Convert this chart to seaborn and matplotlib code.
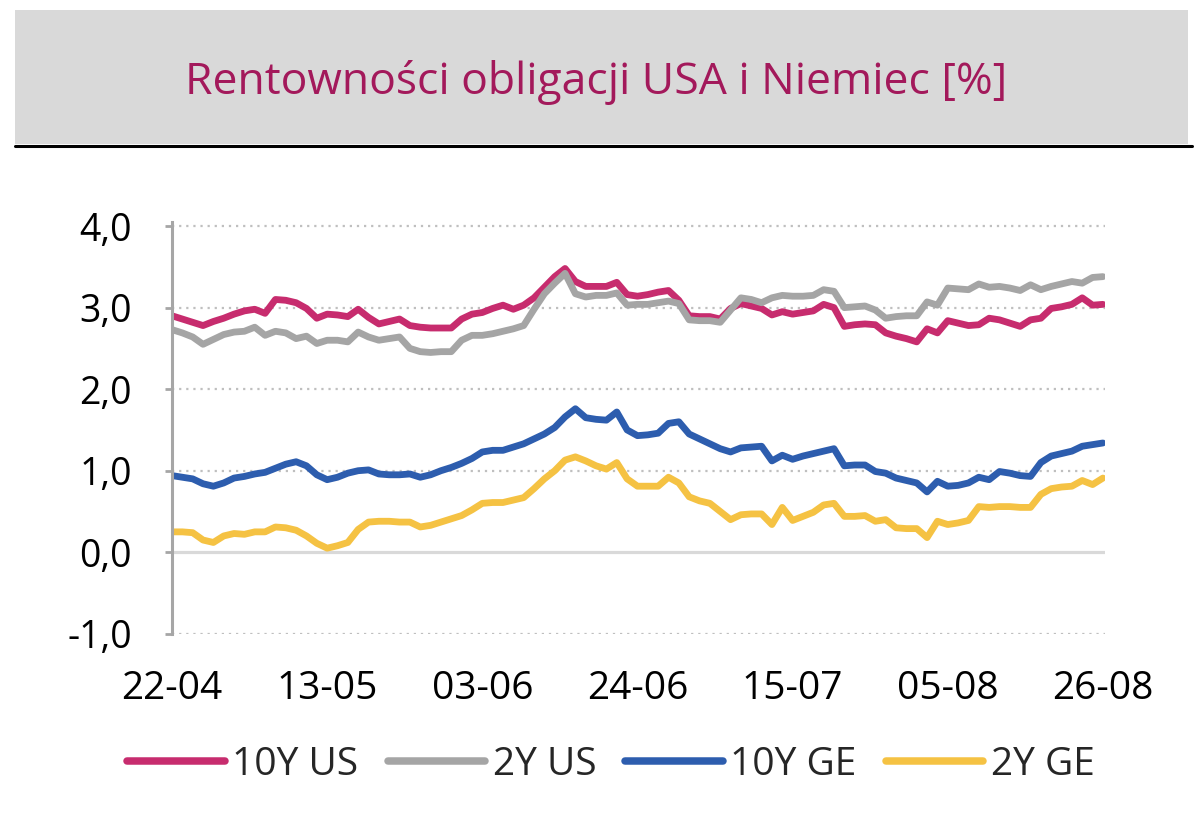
import numpy as np
import pandas as pd
import matplotlib
matplotlib.use("Agg")
import matplotlib.pyplot as plt
import seaborn as sns
from matplotlib.lines import Line2D
from matplotlib.patches import Rectangle
from matplotlib.ticker import FuncFormatter, FixedLocator

# ---------------- data ----------------
dates = pd.bdate_range("2022-04-22", "2022-08-26")

us10 = [2.90, 2.86, 2.82, 2.78, 2.83, 2.87, 2.92, 2.96, 2.98, 2.93, 3.10, 3.09, 3.06, 2.99, 2.87, 2.92,
        2.91, 2.89, 2.98, 2.88, 2.80, 2.83, 2.86, 2.78, 2.76, 2.75, 2.75, 2.75, 2.86, 2.92, 2.94,
        2.99, 3.03, 2.98, 3.03, 3.12, 3.25, 3.38, 3.48, 3.32, 3.26, 3.26, 3.26, 3.31, 3.16, 3.14,
        3.16, 3.19, 3.21, 3.09, 2.90, 2.89, 2.89, 2.86, 2.99, 3.05, 3.02, 2.99, 2.91, 2.95, 2.92,
        2.94, 2.96, 3.04, 3.00, 2.77, 2.79, 2.80, 2.79, 2.69, 2.65, 2.62, 2.58, 2.74, 2.69, 2.84,
        2.81, 2.78, 2.79, 2.87, 2.85, 2.81, 2.77, 2.85, 2.87, 2.99, 3.01, 3.04, 3.12, 3.03, 3.04]

us2 = [2.73, 2.69, 2.64, 2.55, 2.61, 2.67, 2.70, 2.71, 2.76, 2.66, 2.71, 2.69, 2.62, 2.65, 2.56, 2.60,
       2.60, 2.58, 2.70, 2.64, 2.60, 2.62, 2.64, 2.50, 2.46, 2.45, 2.46, 2.46, 2.60, 2.66, 2.66,
       2.68, 2.71, 2.74, 2.78, 2.98, 3.17, 3.30, 3.42, 3.17, 3.13, 3.15, 3.15, 3.18, 3.03, 3.04,
       3.04, 3.06, 3.08, 3.05, 2.85, 2.84, 2.84, 2.82, 2.97, 3.12, 3.10, 3.06, 3.12, 3.15, 3.14,
       3.14, 3.15, 3.22, 3.20, 3.00, 3.01, 3.02, 2.97, 2.87, 2.89, 2.90, 2.90, 3.07, 3.03, 3.24,
       3.23, 3.22, 3.29, 3.25, 3.26, 3.24, 3.21, 3.28, 3.22, 3.26, 3.29, 3.32, 3.30, 3.37, 3.38]

ge10 = [0.94, 0.92, 0.90, 0.84, 0.81, 0.85, 0.91, 0.93, 0.96, 0.98, 1.03, 1.08, 1.11, 1.06, 0.95, 0.89,
        0.92, 0.97, 1.00, 1.01, 0.96, 0.95, 0.95, 0.96, 0.92, 0.95, 1.00, 1.04, 1.09, 1.15, 1.23,
        1.25, 1.25, 1.29, 1.33, 1.39, 1.45, 1.53, 1.66, 1.76, 1.65, 1.63, 1.62, 1.72, 1.50, 1.43,
        1.44, 1.46, 1.58, 1.60, 1.45, 1.39, 1.33, 1.27, 1.23, 1.28, 1.29, 1.30, 1.12, 1.19, 1.14,
        1.18, 1.21, 1.24, 1.27, 1.06, 1.07, 1.07, 0.99, 0.97, 0.91, 0.88, 0.85, 0.74, 0.87, 0.81,
        0.82, 0.85, 0.92, 0.89, 0.99, 0.97, 0.94, 0.93, 1.10, 1.18, 1.21, 1.24, 1.30, 1.32, 1.34]

ge2 = [0.25, 0.25, 0.24, 0.15, 0.12, 0.20, 0.23, 0.22, 0.25, 0.25, 0.31, 0.30, 0.27, 0.20, 0.11, 0.05,
       0.08, 0.12, 0.28, 0.37, 0.38, 0.38, 0.37, 0.37, 0.31, 0.33, 0.37, 0.41, 0.45, 0.52, 0.60,
       0.61, 0.61, 0.64, 0.67, 0.78, 0.90, 1.00, 1.13, 1.17, 1.12, 1.06, 1.02, 1.10, 0.90, 0.81,
       0.81, 0.81, 0.92, 0.85, 0.68, 0.63, 0.60, 0.50, 0.40, 0.46, 0.47, 0.47, 0.34, 0.55, 0.39,
       0.44, 0.49, 0.58, 0.60, 0.44, 0.44, 0.45, 0.38, 0.40, 0.30, 0.29, 0.29, 0.18, 0.38, 0.34,
       0.36, 0.39, 0.56, 0.55, 0.56, 0.56, 0.55, 0.55, 0.71, 0.78, 0.80, 0.81, 0.88, 0.83, 0.91]

series_names = ["10Y US", "2Y US", "10Y GE", "2Y GE"]
series_colors = ["#C72C6E", "#A5A5A5", "#2D5DAE", "#F5C243"]
title_text = "Rentowności obligacji USA i Niemiec [%]"
y_ticks = [-1.0, 0.0, 1.0, 2.0, 3.0, 4.0]
label_step = 15

# ---------------- frame ----------------
wide = pd.DataFrame({"idx": np.arange(len(dates)),
                     "10Y US": us10, "2Y US": us2, "10Y GE": ge10, "2Y GE": ge2})
long = wide.melt(id_vars="idx", var_name="series", value_name="value")

sns.set_theme(style="white")
plt.rcParams["font.family"] = ["Open Sans", "DejaVu Sans"]

W, H = 1200, 815
fig = plt.figure(figsize=(W / 100, H / 100), dpi=100)
fig.patch.set_facecolor("white")

# title banner
fig.patches.append(Rectangle((15 / W, 1 - 144 / H), 1173 / W, 134 / H,
                             transform=fig.transFigure, facecolor="#D9D9D9",
                             edgecolor="none", zorder=0))
fig.lines.append(Line2D([15 / W, 1192 / W], [1 - 145.5 / H] * 2,
                        transform=fig.transFigure, color="black", lw=2.2))
fig.text(596 / W, 1 - 94 / H, title_text, ha="center", va="baseline",
         fontsize=32, color="#A3195B")

# axes
left, right = 172 / W, 1105 / W
top, bottom = 1 - 222 / H, 1 - 633.8 / H
ax = fig.add_axes([left, bottom, right - left, top - bottom])

sns.lineplot(data=long, x="idx", y="value", hue="series", hue_order=series_names,
             palette=series_colors, linewidth=4.9, ax=ax, legend=False,
             solid_joinstyle="round", solid_capstyle="round")

ax.set_xlim(0, 90.2)
ax.set_ylim(-1.0, 4.05)

# grid
for v in y_ticks:
    if v == 0:
        ax.axhline(v, color="#D9D9D9", lw=2.3, zorder=0.5)
    else:
        ax.axhline(v, color="#BFBFBF", lw=1.6, ls=(0, (1, 2.2)), zorder=0.5)

ax.set_xlabel("")
ax.set_ylabel("")
for s in ["top", "right", "bottom"]:
    ax.spines[s].set_visible(False)
ax.spines["left"].set_color("#A6A6A6")
ax.spines["left"].set_linewidth(2.2)

ax.yaxis.set_major_locator(FixedLocator(y_ticks))
ax.yaxis.set_major_formatter(FuncFormatter(lambda v, p: f"{v:.1f}".replace(".", ",")))
ax.tick_params(axis="y", direction="out", length=5, width=2.0, color="#A6A6A6",
               labelsize=27, pad=24, labelcolor="black", left=True)

xt = list(range(0, len(dates), label_step))
ax.set_xticks(xt)
ax.set_xticklabels([dates[i].strftime("%d-%m") for i in xt])
ax.tick_params(axis="x", length=0, labelsize=28, pad=26, labelcolor="black")

# legend
handles = [Line2D([0], [0], color=c, lw=5.4, solid_capstyle="round") for c in series_colors]
fig.legend(handles, series_names, loc="center", bbox_to_anchor=(611 / W, 1 - 765 / H),
           ncol=4, frameon=False, fontsize=28, handlelength=2.5, handletextpad=0.2,
           columnspacing=0.75, borderaxespad=0)

fig.savefig("out.png", dpi=100)
